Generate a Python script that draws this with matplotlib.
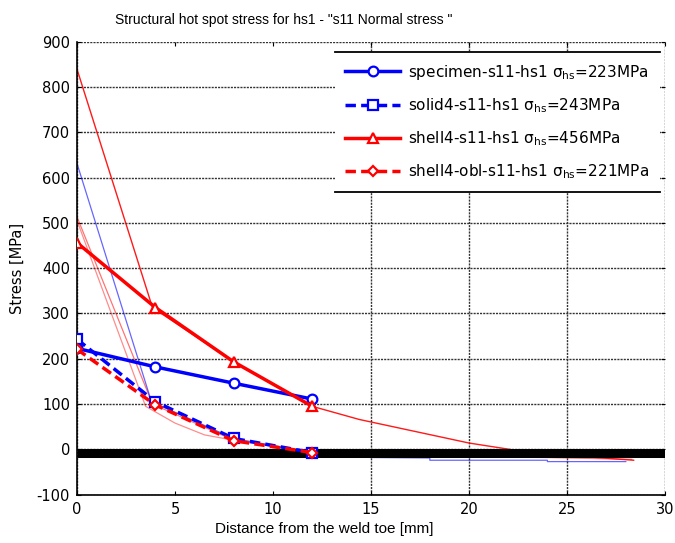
"""
Structural hot spot stress for hs1 - s11 normal stress vs distance from weld toe.
"""

import matplotlib
matplotlib.use("Agg")
import matplotlib.pyplot as plt
from matplotlib.lines import Line2D

# ── Fonts ─────────────────────────────────────────────────────────────────────
plt.rcParams["font.family"] = ["DejaVu Sans"]
plt.rcParams["mathtext.fontset"] = "custom"
plt.rcParams["mathtext.rm"] = "DejaVu Sans"
plt.rcParams["mathtext.it"] = "DejaVu Sans"
plt.rcParams["axes.unicode_minus"] = False
NARROW = ["Liberation Sans", "DejaVu Sans"]

# ── Data ──────────────────────────────────────────────────────────────────────
# read-out points used for the hot spot extrapolation
x_pts      = [0, 4, 8, 12]
specimen   = [223, 182, 146, 111]
solid4     = [243, 105, 24, -7]
shell4     = [456, 313, 193, 95]
shell4_obl = [221, 98, 19, -7]

# raw stress curves (thin lines)
raw_blue_x   = [0, 3.8, 8, 12, 15, 18, 18, 24, 24, 28]
raw_blue_y   = [631, 105, 24, -7, -18, -19, -24, -24, -27, -27]
raw_shell_x  = [0, 3.85, 8, 12, 14.4, 20, 24, 26.2, 28.4]
raw_shell_y  = [839, 313, 193, 95, 66, 14, -13, -17, -24]
raw_oblB_x   = [0, 3.85, 8, 12, 16, 20, 24, 28.3]
raw_oblB_y   = [513, 100, 20, -7, -14, -16, -18, -22]
raw_oblA_x   = [0, 3.5, 5, 6.5, 8]
raw_oblA_y   = [505, 95, 58, 32, 20]

# thick black reference band
band_x = [0, 30]
band_y = [-8, -8]

labels = [
    r"specimen-s11-hs1 $\sigma_{hs}$=223MPa",
    r"solid4-s11-hs1 $\sigma_{hs}$=243MPa",
    r"shell4-s11-hs1 $\sigma_{hs}$=456MPa",
    r"shell4-obl-s11-hs1 $\sigma_{hs}$=221MPa",
]

xticks = [0, 5, 10, 15, 20, 25, 30]
yticks = [-100, 0, 100, 200, 300, 400, 500, 600, 700, 800, 900]

BLUE = "#0000ff"
RED = "#ff0000"

# ── Figure ────────────────────────────────────────────────────────────────────
fig = plt.figure(figsize=(6.75, 5.43), dpi=100)
ax = fig.add_axes([0.1141, 0.0890, 0.8711, 0.8344])

# thin raw curves
ax.plot(raw_oblA_x, raw_oblA_y, color=RED, lw=0.9, alpha=0.45, zorder=2)
ax.plot(raw_oblB_x, raw_oblB_y, color=RED, lw=0.9, alpha=0.55, zorder=2)
ax.plot(raw_blue_x, raw_blue_y, color=BLUE, lw=0.9, alpha=0.6, zorder=2)
ax.plot(raw_shell_x, raw_shell_y, color=RED, lw=1.0, alpha=0.9, zorder=2)

# black band
ax.plot(band_x, band_y, color="black", lw=6.5, solid_capstyle="butt", zorder=3)

# extrapolation lines
l1, = ax.plot(x_pts, specimen, color=BLUE, lw=2.5, marker="o", ms=7,
              mfc="white", mec=BLUE, mew=1.6, zorder=5)
l2, = ax.plot(x_pts, solid4, color=BLUE, lw=2.5, ls=(0, (3, 1.5)), marker="s",
              ms=7, mfc="white", mec=BLUE, mew=1.6, zorder=5)
l3, = ax.plot(x_pts, shell4, color=RED, lw=2.5, marker="^", ms=7,
              mfc="white", mec=RED, mew=1.6, zorder=6)
l4, = ax.plot(x_pts, shell4_obl, color=RED, lw=2.5, ls=(0, (3, 1.5)), marker="D",
              ms=5, mfc="white", mec=RED, mew=1.6, zorder=6)

ax.set_xlim(0, 30)
ax.set_ylim(-100, 900)
ax.set_xticks(xticks)
ax.set_yticks(yticks)
ax.tick_params(direction="in", length=3, labelsize=10.5, top=True, right=True,
               width=0.8, pad=5)
ax.spines["top"].set_visible(False)
ax.spines["right"].set_visible(False)
ax.spines["left"].set_linewidth(1.2)
ax.spines["bottom"].set_linewidth(1.2)

ax.grid(True, color="0.2", ls=(0, (1.5, 0.8)), lw=1.0, zorder=1)
# vertical grid lines at 5 and 10 are not shown in the original
for i, gl in enumerate(ax.get_xgridlines()):
    if xticks[i] in (5, 10):
        gl.set_visible(False)

leg = ax.legend([l1, l2, l3, l4], labels, loc="upper right",
                bbox_to_anchor=(0.991, 0.977), borderaxespad=0,
                fontsize=11, handlelength=3.6, handletextpad=0.5,
                labelspacing=0.95, borderpad=0.7, fancybox=False,
                framealpha=1, facecolor="white", edgecolor="none")
leg.set_zorder(10)

# ── Text ──────────────────────────────────────────────────────────────────────
fig.text(0.421, 0.963, 'Structural hot spot stress for hs1 - "s11 Normal stress "',
         ha="center", va="center", fontsize=10, family=NARROW)
fig.text(0.48, 0.026, "Distance from the weld toe [mm]", ha="center",
         va="center", fontsize=11, family=NARROW)
fig.text(0.025, 0.505, "Stress [MPa]", rotation=90, ha="center", va="center",
         fontsize=10.5)

# top and bottom rules on the legend box
fig.canvas.draw()
bb = leg.get_window_extent().transformed(fig.transFigure.inverted())
for yy in (bb.y0, bb.y1):
    fig.add_artist(Line2D([bb.x0, bb.x1], [yy, yy], transform=fig.transFigure,
                          color="black", lw=1.3, zorder=11))

plt.savefig("out.png", dpi=100)
